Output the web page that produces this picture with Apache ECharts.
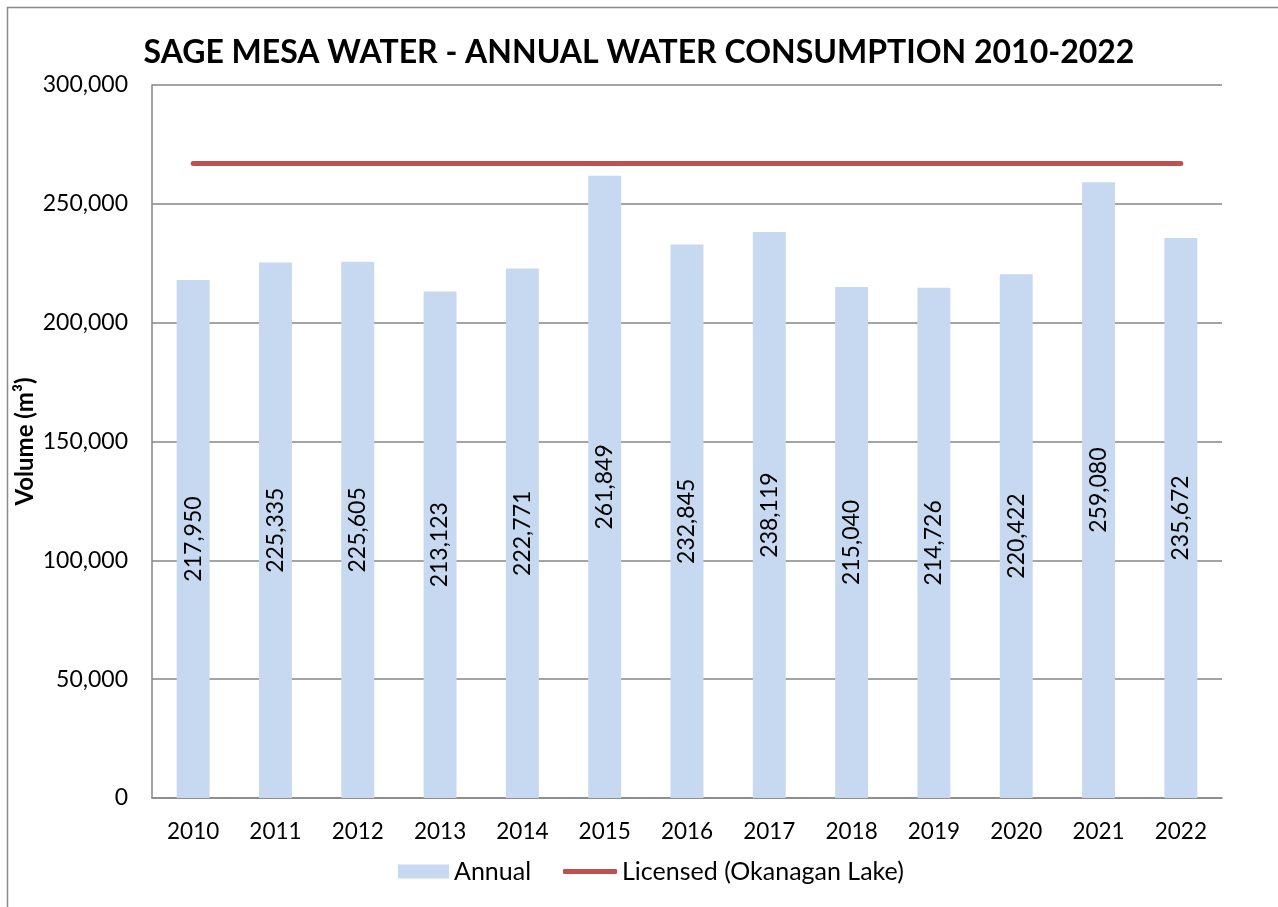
<!DOCTYPE html>
<html><head><meta charset="utf-8">
<script src="https://cdn.jsdelivr.net/npm/echarts@6/dist/echarts.min.js"></script>
<style>html,body{margin:0;padding:0;background:#fff}#c{width:1278px;height:907px}</style>
</head><body><div id="c"></div>
<script>
const years = ['2010','2011','2012','2013','2014','2015','2016','2017','2018','2019','2020','2021','2022'];
const annual = [217950,225335,225605,213123,222771,261849,232845,238119,215040,214726,220422,259080,235672];
const licensedValue = 267000;
const licensed = years.map(() => licensedValue);
const yTicks = [0,50000,100000,150000,200000,250000,300000];
const fmt = v => Number(v).toLocaleString('en-US');
const FONT = 'Lato, "Open Sans", sans-serif';

const chart = echarts.init(document.getElementById('c'));
chart.setOption({
  animation:false,
  backgroundColor:'#fff',
  textStyle:{fontFamily:FONT},
  graphic:[{type:'rect',shape:{x:7.5,y:7.5,width:1320,height:960},style:{fill:'none',stroke:'#8a8a8a',lineWidth:1.5},silent:true}],
  title:{text:'SAGE MESA WATER - ANNUAL WATER CONSUMPTION 2010-2022',left:'center',top:32,
    textStyle:{fontFamily:FONT,fontWeight:'bold',fontSize:32,color:'#000'}},
  grid:{left:152,right:56,top:85,bottom:109,containLabel:false},
  legend:[
    {left:393,top:854,itemWidth:51,itemHeight:14,itemGap:0,
     textStyle:{fontFamily:FONT,fontSize:25,color:'#000'},
     data:[{name:'Annual',icon:'rect'}]},
    {left:558,top:854,itemWidth:54,itemHeight:5,itemGap:0,
     textStyle:{fontFamily:FONT,fontSize:25,color:'#000'},
     data:[{name:'Licensed (Okanagan Lake)',icon:'roundRect'}]}
  ],
  xAxis:{type:'category',data:years,
    axisLine:{lineStyle:{color:'#868686',width:1.5}},axisTick:{show:false},
    axisLabel:{color:'#000',fontSize:22.5,margin:22,fontFamily:FONT}},
  yAxis:{type:'value',min:0,max:300000,interval:50000,
    name:'Volume (m³)',nameLocation:'middle',nameGap:115,nameRotate:90,nameMoveOverlap:false,
    nameTextStyle:{fontFamily:FONT,fontWeight:'bold',fontSize:24,color:'#000'},
    axisLine:{show:true,lineStyle:{color:'#868686',width:1.5}},axisTick:{show:false},
    splitLine:{lineStyle:{color:'#868686',width:1.5}},
    axisLabel:{color:'#000',fontSize:23,margin:24,fontFamily:FONT,
      formatter:v => yTicks.includes(v) ? fmt(v) : ''}},
  series:[
    {name:'Annual',type:'bar',data:annual,barWidth:'40%',
      itemStyle:{color:'#c6d9f1'},
      label:{show:true,position:'inside',rotate:90,color:'#000',fontSize:23,fontFamily:FONT,
        formatter:p => fmt(p.value)}},
    {name:'Licensed (Okanagan Lake)',type:'line',data:licensed,symbol:'none',
      lineStyle:{color:'#c0504d',width:5,cap:'round'},itemStyle:{color:'#c0504d'}}
  ]
});
</script></body></html>
